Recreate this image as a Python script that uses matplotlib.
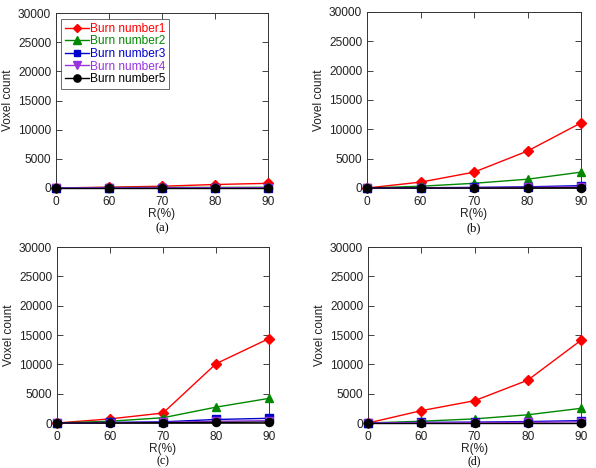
import matplotlib
matplotlib.use("Agg")
import matplotlib.pyplot as plt
import numpy as np

r_labels = ["0", "60", "70", "80", "90"]
series_names = ["Burn number1", "Burn number2", "Burn number3", "Burn number4", "Burn number5"]

a_b1 = [0, 150, 300, 600, 800]
a_b2 = [0, 80, 100, 100, 120]
a_b3 = [0, 20, 30, 40, 50]
a_b4 = [0, 10, 20, 30, 40]
a_b5 = [0, 0, 0, 0, 0]

b_b1 = [0, 1000, 2700, 6300, 11100]
b_b2 = [0, 300, 800, 1500, 2700]
b_b3 = [0, 50, 100, 200, 400]
b_b4 = [0, 30, 60, 100, 200]
b_b5 = [0, 0, 0, 0, 50]

c_b1 = [0, 700, 1700, 10100, 14400]
c_b2 = [0, 300, 900, 2700, 4200]
c_b3 = [0, 100, 200, 600, 800]
c_b4 = [0, 50, 100, 300, 400]
c_b5 = [0, 0, 50, 100, 150]

d_b1 = [0, 2100, 3800, 7300, 14100]
d_b2 = [0, 300, 700, 1400, 2500]
d_b3 = [0, 100, 150, 250, 400]
d_b4 = [0, 50, 80, 120, 200]
d_b5 = [0, 0, 0, 0, 0]

panels = [
    ("(a)", "Voxel count", [a_b1, a_b2, a_b3, a_b4, a_b5]),
    ("(b)", "Vovel count", [b_b1, b_b2, b_b3, b_b4, b_b5]),
    ("(c)", "Voxel count", [c_b1, c_b2, c_b3, c_b4, c_b5]),
    ("(d)", "Voxel count", [d_b1, d_b2, d_b3, d_b4, d_b5]),
]

colors = ["#ff0000", "#008800", "#0000cc", "#9933dd", "#000000"]
markers = ["D", "^", "s", "v", "o"]
msizes = [5, 5.8, 5.2, 5.8, 5.8]

plt.rcParams['font.family'] = ['Liberation Sans', 'DejaVu Sans']

W, H = 596, 468
fig = plt.figure(figsize=(W / 100, H / 100), dpi=100)

# axes boxes in pixel coords: left, top, right, bottom
boxes = [
    (56, 13, 268, 188),
    (367, 12, 581, 188),
    (57, 247, 269, 423),
    (368, 247, 581, 423),
]
caption_y = [228, 228, 461, 461]

x = np.arange(len(r_labels))
for i, (cap, ylab, data) in enumerate(panels):
    l, t, r, b = boxes[i]
    ax = fig.add_axes([l / W, 1 - b / H, (r - l) / W, (b - t) / H])
    handles = []
    for k in range(5):
        h, = ax.plot(x, data[k], color=colors[k], marker=markers[k], markersize=msizes[k],
                     linewidth=1, clip_on=False, zorder=3 + k * 0.1)
        handles.append(h)
    ax.set_xlim(0, 4)
    ax.set_ylim(0, 30000)
    ax.set_xticks(x)
    ax.set_xticklabels(r_labels)
    ax.set_yticks(np.arange(0, 30001, 5000))
    ax.tick_params(direction='in', top=True, right=True, labelsize=8.6, length=4, width=0.6,
                   colors='#222222', labelcolor='#222222')
    ax.tick_params(axis='x', pad=5.5)
    ax.tick_params(axis='y', pad=3.5)
    for s in ax.spines.values():
        s.set_linewidth(0.7)
        s.set_color('#333333')
    ax.set_xlabel("R(%)", fontsize=8.6, labelpad=0.5, color='#222222')
    ax.set_ylabel(ylab, fontsize=8.6, labelpad=3, color='#222222')
    cx = (l + r) / 2 / W
    if i < 2:
        fig.text(cx, 1 - caption_y[i] / H, cap, ha='center', va='center',
                 fontsize=9, family=['Liberation Serif', 'DejaVu Serif'])
    else:
        fig.text(cx, 0.5 / H, cap, ha='center', va='bottom',
                 fontsize=8.5, family=['Liberation Serif', 'DejaVu Serif'])
    if i == 0:
        leg = ax.legend(handles, series_names, loc='upper left', fontsize=8.6,
                        handlelength=2.0, handletextpad=0.1, borderpad=0.3,
                        labelspacing=0.05, frameon=True, fancybox=False,
                        bbox_to_anchor=(0.025, 0.965), borderaxespad=0,
                        markerscale=0.9)
        leg.get_frame().set_edgecolor('#444444')
        leg.get_frame().set_linewidth(0.7)
        for txt, c in zip(leg.get_texts(), colors):
            txt.set_color(c)

fig.savefig("out.png", dpi=100)
